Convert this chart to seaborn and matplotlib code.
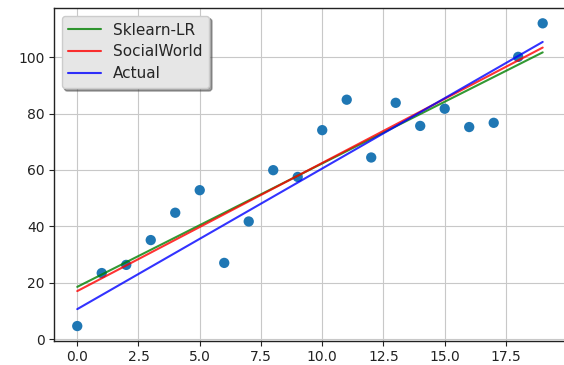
import matplotlib
matplotlib.use("Agg")
import matplotlib.pyplot as plt
import seaborn as sns
import pandas as pd

# scatter data
x_points = list(range(20))
y_points = [4.6, 23.4, 26.3, 35.1, 44.8, 52.8, 27.0, 41.7, 59.9, 57.5,
            74.1, 84.9, 64.4, 83.8, 75.6, 81.7, 75.2, 76.7, 100.1, 112.0]

# line endpoints
line_x = [0, 19]
sklearn_y = [18.5, 101.7]
social_y = [17.0, 103.4]
actual_y = [10.6, 105.4]

sns.set_style("whitegrid", {
    "axes.edgecolor": "#222222",
    "grid.color": "#c8c8c8",
    "xtick.bottom": True,
    "ytick.left": True,
})
plt.rcParams['font.family'] = ['DejaVu Sans']

fig = plt.figure(figsize=(5.64, 3.65), dpi=100)
ax = fig.add_axes([0.0957, 0.0658, 0.9078, 0.912])

sns.scatterplot(x=x_points, y=y_points, ax=ax, color="#1f77b4", s=55,
                edgecolor="none", zorder=3)
sns.lineplot(x=line_x, y=sklearn_y, ax=ax, color="green", label="Sklearn-LR",
             linewidth=1.5, alpha=0.8, zorder=4)
sns.lineplot(x=line_x, y=social_y, ax=ax, color="red", label="SocialWorld",
             linewidth=1.5, alpha=0.8, zorder=4)
sns.lineplot(x=line_x, y=actual_y, ax=ax, color="blue", label="Actual",
             linewidth=1.5, alpha=0.8, zorder=4)

ax.set_xlim(-0.95, 19.95)
ax.set_ylim(-0.7, 117.4)
ax.set_xticks([0, 2.5, 5, 7.5, 10, 12.5, 15, 17.5])
ax.set_xticklabels(["0.0", "2.5", "5.0", "7.5", "10.0", "12.5", "15.0", "17.5"])
ax.set_yticks([0, 20, 40, 60, 80, 100])
ax.tick_params(axis="both", labelsize=10, length=3.5, width=0.8, colors="#222222",
               pad=3)
for sp in ax.spines.values():
    sp.set_linewidth(1.0)
ax.spines["right"].set_visible(False)

leg = ax.legend(loc="upper left", fontsize=11, frameon=True, shadow=True,
                fancybox=True, framealpha=1.0, borderpad=0.45,
                handlelength=2.1, labelspacing=0.45)
leg.get_frame().set_facecolor("#e6e6e6")
leg.get_frame().set_edgecolor("#cccccc")

fig.savefig("out.png", dpi=100)
